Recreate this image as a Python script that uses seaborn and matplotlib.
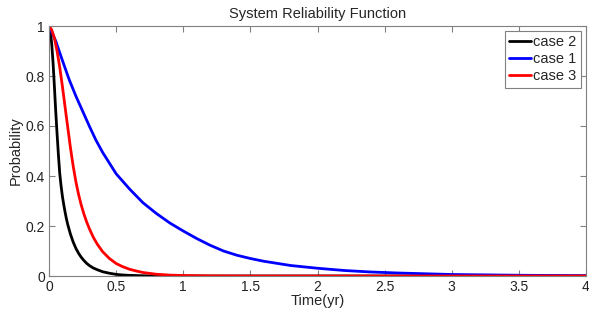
import numpy as np
import pandas as pd
import matplotlib
matplotlib.use("Agg")
import matplotlib.pyplot as plt
import seaborn as sns

# values
t_case2 = [0, 0.01, 0.02, 0.03, 0.04, 0.05, 0.06, 0.07, 0.08, 0.09, 0.1, 0.11, 0.12, 0.13,
           0.14, 0.16, 0.18, 0.2, 0.22, 0.24, 0.26, 0.28, 0.3, 0.33, 0.36, 0.4, 0.45, 0.5,
           0.55, 0.6, 0.7, 0.8, 4.0]
p_case2 = [1.0, 0.978, 0.93, 0.855, 0.76, 0.66, 0.57, 0.485, 0.41, 0.36, 0.318, 0.285, 0.255, 0.228,
           0.205, 0.167, 0.136, 0.111, 0.091, 0.075, 0.062, 0.051, 0.042, 0.032, 0.025, 0.017, 0.011, 0.0065,
           0.004, 0.0025, 0.001, 0.0, 0.0]

t_case1 = [0, 0.05, 0.1, 0.15, 0.2, 0.25, 0.3, 0.35, 0.4, 0.5, 0.6, 0.7, 0.8, 0.9, 1.0,
           1.1, 1.2, 1.3, 1.4, 1.5, 1.6, 1.8, 2.0, 2.2, 2.4, 2.6, 2.8, 3.0, 3.25, 3.5, 3.75, 4.0]
p_case1 = [1.0, 0.94, 0.862, 0.786, 0.72, 0.66, 0.6, 0.543, 0.494, 0.409, 0.348, 0.293, 0.25, 0.212, 0.18,
           0.15, 0.123, 0.1, 0.083, 0.07, 0.059, 0.042, 0.031, 0.022, 0.016, 0.012, 0.009, 0.006, 0.0045,
           0.003, 0.002, 0.001]

t_case3 = [0, 0.02, 0.04, 0.06, 0.08, 0.1, 0.12, 0.14, 0.16, 0.18, 0.2, 0.22, 0.24, 0.26, 0.28,
           0.3, 0.33, 0.36, 0.4, 0.45, 0.5, 0.55, 0.6, 0.65, 0.7, 0.8, 0.9, 1.0, 1.2, 1.5, 4.0]
p_case3 = [1.0, 0.985, 0.952, 0.9, 0.835, 0.758, 0.675, 0.593, 0.512, 0.44, 0.378, 0.327, 0.284, 0.248, 0.217,
           0.19, 0.155, 0.127, 0.097, 0.07, 0.05, 0.037, 0.027, 0.02, 0.014, 0.007, 0.0035, 0.002, 0.0005, 0.0, 0.0]

series = [("case 2", t_case2, p_case2, "black"),
          ("case 1", t_case1, p_case1, "blue"),
          ("case 3", t_case3, p_case3, "red")]

sns.set_theme(style="ticks")
plt.rcParams["font.family"] = ["Liberation Sans", "DejaVu Sans"]

fig = plt.figure(figsize=(5.89, 3.15), dpi=100)
fig.patch.set_facecolor("white")
ax = fig.add_axes([49 / 589, 39 / 315, 537 / 589, 250 / 315])

for name, t, p, col in series:
    df = pd.DataFrame({"t": t, "p": p})
    sns.lineplot(data=df, x="t", y="p", color=col, linewidth=2, label=name,
                 sort=False, ax=ax)

ax.set_xlim(0, 4)
ax.set_ylim(0, 1)
ax.set_xticks(np.arange(0, 4.01, 0.5))
ax.set_xticklabels(["0", "0.5", "1", "1.5", "2", "2.5", "3", "3.5", "4"])
ax.set_yticks(np.arange(0, 1.01, 0.2))
ax.set_yticklabels(["0", "0.2", "0.4", "0.6", "0.8", "1"])

grey = "#808080"
for s in ax.spines.values():
    s.set_visible(True)
    s.set_color(grey)
    s.set_linewidth(0.8)
ax.tick_params(direction="in", length=4, width=0.8, color=grey, labelsize=10,
               labelcolor="#222222", top=True, right=True, pad=3)

ax.set_title("System Reliability Function", fontsize=10.5, pad=6)
ax.set_xlabel("Time(yr)", fontsize=10.5, labelpad=0)
ax.set_ylabel("Probability", fontsize=10.5, labelpad=2)

leg = ax.legend(loc="upper right", fontsize=10.5, frameon=True, fancybox=False,
                framealpha=1, edgecolor=grey, handlelength=1.5, handletextpad=0.15,
                borderpad=0.3, labelspacing=0.2, borderaxespad=0.35)
leg.get_frame().set_linewidth(0.8)

fig.savefig("out.png", dpi=100, facecolor="white")
